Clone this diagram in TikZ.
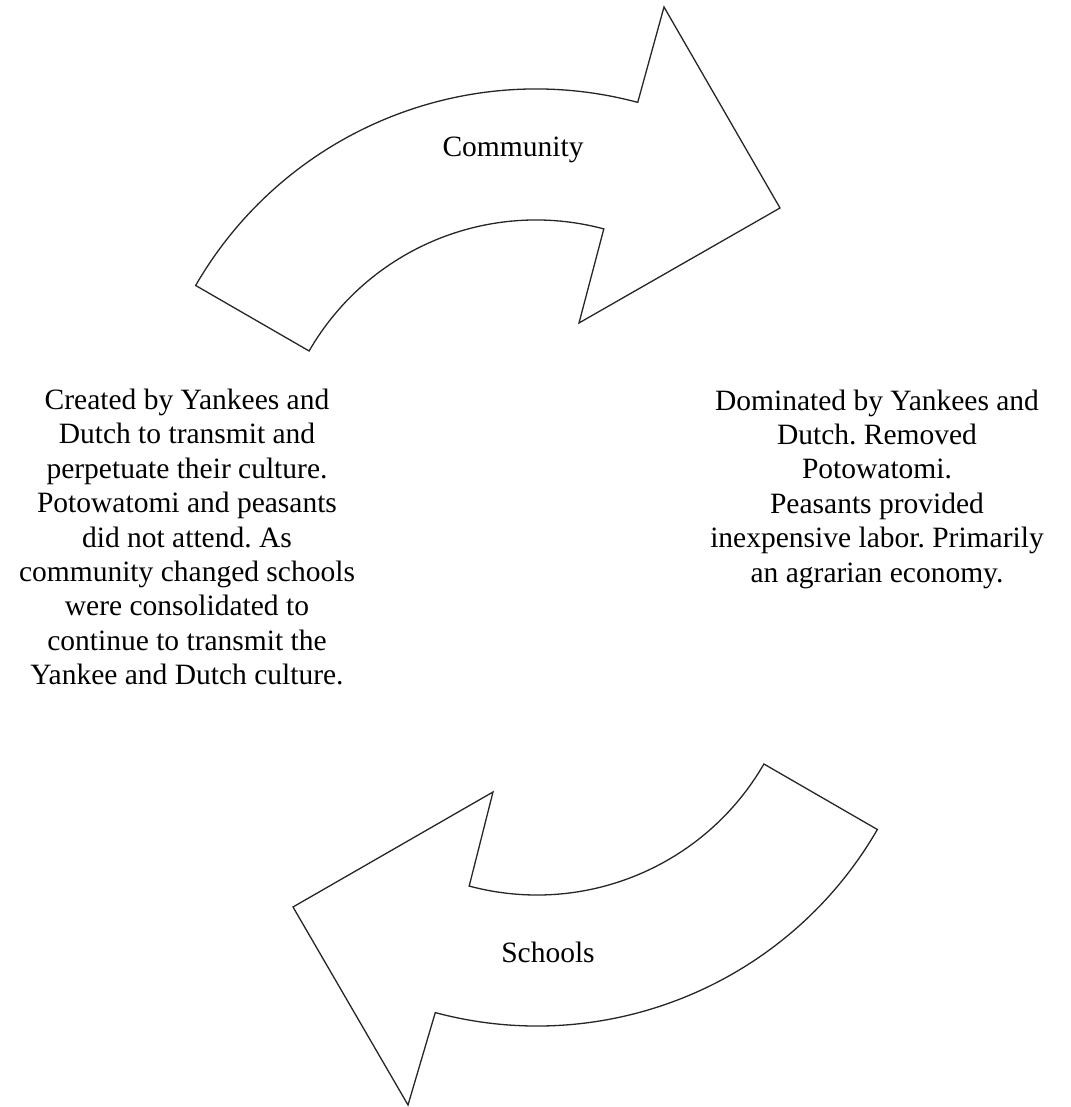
\documentclass[tikz,border=0pt]{standalone}
\usepackage{fontspec}
\setmainfont{Liberation Serif}
\usetikzlibrary{calc}
\frenchspacing
\begin{document}
\begin{tikzpicture}[x=1pt,y=1pt,
  arrowshape/.style={draw=black!85, line width=1.3pt, line join=miter, fill=white},
  bodytext/.style={align=center, inner sep=0pt, font=\fontsize{29.5}{34.4}\selectfont},
  labeltext/.style={inner sep=0pt, font=\fontsize{29.5}{34.4}\selectfont}]
\useasboundingbox (0,0) rectangle (1070,1107);
\coordinate (c1) at (536,625);
\coordinate (c2) at (537,474);
% top arrow
\coordinate (t1tail) at ($(c1)+(150:393)$);
\coordinate (t1barbA) at (664,1100);
\coordinate (t1tip) at (780,899);
\coordinate (t1barbB) at (579,784);
\coordinate (t1inner) at ($(c1)+(75:262)$);
\draw[arrowshape] (t1tail) arc[start angle=150, end angle=75, radius=393]
  -- (t1barbA) -- (t1tip) -- (t1barbB) -- (t1inner)
  arc[start angle=75, end angle=150, radius=262] -- cycle;
% bottom arrow
\coordinate (b1tail) at ($(c2)+(330:262)$);
\coordinate (b1barbA) at (493,315);
\coordinate (b1tip) at (293,200);
\coordinate (b1barbB) at (408,2);
\coordinate (b1outer) at ($(c2)+(255:393)$);
\draw[arrowshape] (b1tail) arc[start angle=330, end angle=255, radius=262]
  -- (b1barbA) -- (b1tip) -- (b1barbB) -- (b1outer)
  arc[start angle=255, end angle=330, radius=393] -- cycle;
% labels
\node[labeltext] (community) at (513,957) {Community};
\node[labeltext] (schools) at (548,155) {Schools};
\node[bodytext] (lefttext) at (187,570) {Created by Yankees and\\Dutch to transmit and\\perpetuate their culture.\\Potowatomi and peasants\\did not attend. As\\community changed schools\\were consolidated to\\continue to transmit the\\Yankee and Dutch culture.};
\node[bodytext] (righttext) at (877,618) {Dominated by Yankees and\\Dutch. Removed\\Potowatomi.\\Peasants provided\\inexpensive labor. Primarily\\an agrarian economy.};
\end{tikzpicture}
\end{document}
